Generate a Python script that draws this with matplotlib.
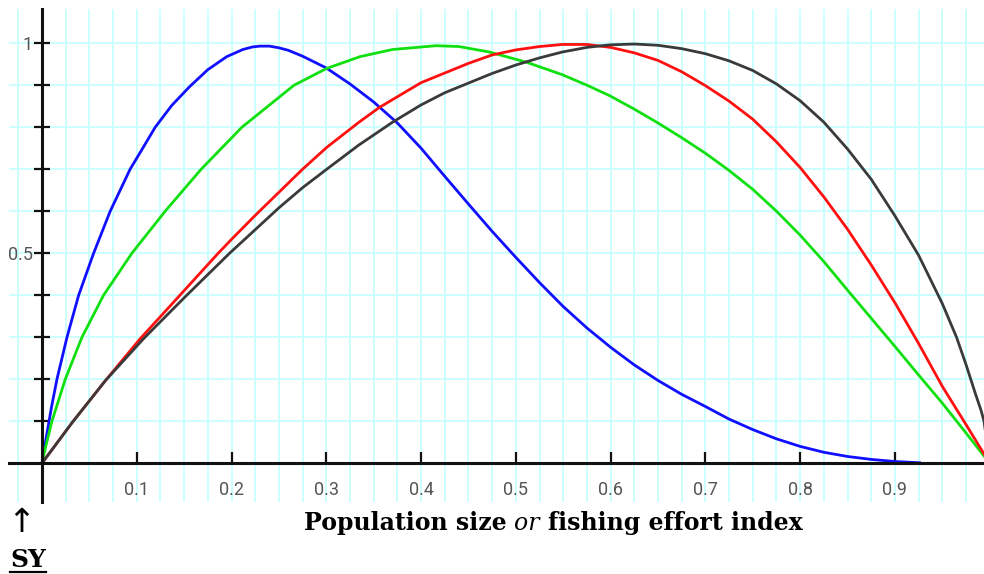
import numpy as np
import matplotlib
matplotlib.use("Agg")
import matplotlib.pyplot as plt
from matplotlib.ticker import MultipleLocator, FixedLocator, FuncFormatter
from matplotlib.lines import Line2D

# values (x = population size / effort index)
blue_x = [0, 0.005, 0.01, 0.0158, 0.0264, 0.0387, 0.0545, 0.072, 0.093, 0.105,
          0.1195, 0.137, 0.156, 0.175, 0.195, 0.212, 0.222, 0.23, 0.24, 0.25,
          0.26, 0.275, 0.3, 0.325, 0.35, 0.375, 0.4, 0.425, 0.45, 0.475,
          0.5, 0.525, 0.55, 0.575, 0.6, 0.625, 0.65, 0.675, 0.7, 0.725,
          0.75, 0.775, 0.8, 0.825, 0.85, 0.875, 0.9, 0.926]
blue_y = [0, 0.068, 0.133, 0.2, 0.3, 0.4, 0.5, 0.6, 0.7, 0.745,
          0.8, 0.852, 0.897, 0.937, 0.968, 0.985, 0.991, 0.993, 0.993, 0.989,
          0.983, 0.969, 0.941, 0.903, 0.86, 0.81, 0.75, 0.683, 0.617, 0.552,
          0.49, 0.43, 0.373, 0.322, 0.276, 0.234, 0.197, 0.164, 0.135, 0.105,
          0.08, 0.058, 0.04, 0.026, 0.016, 0.009, 0.004, 0.001]

green_x = [0, 0.004, 0.0105, 0.0246, 0.0422, 0.065, 0.0949, 0.13, 0.168, 0.211,
           0.266, 0.3005, 0.3357, 0.37, 0.4158, 0.44, 0.472, 0.5108, 0.549, 0.575,
           0.599, 0.625, 0.65, 0.675, 0.7, 0.725, 0.75, 0.775, 0.8, 0.825,
           0.85, 0.875, 0.9, 0.925, 0.95, 0.975, 1.0]
green_y = [0, 0.04, 0.1, 0.2, 0.3, 0.4, 0.5, 0.6, 0.7, 0.8,
           0.9, 0.94, 0.968, 0.985, 0.994, 0.992, 0.979, 0.955, 0.925, 0.9,
           0.875, 0.843, 0.81, 0.775, 0.738, 0.697, 0.652, 0.6, 0.543, 0.48,
           0.412, 0.345, 0.278, 0.21, 0.143, 0.072, 0.0]

red_x = [0, 0.0316, 0.0667, 0.1035, 0.144, 0.186, 0.2, 0.225, 0.25, 0.275,
         0.3005, 0.334, 0.356, 0.4, 0.45, 0.475, 0.5, 0.525, 0.549, 0.575,
         0.6, 0.625, 0.65, 0.675, 0.7, 0.725, 0.75, 0.775, 0.8, 0.825,
         0.85, 0.875, 0.9, 0.925, 0.95, 0.975, 1.0]
red_y = [0, 0.096, 0.196, 0.296, 0.396, 0.5, 0.533, 0.59, 0.645, 0.7,
         0.752, 0.811, 0.847, 0.906, 0.952, 0.972, 0.984, 0.992, 0.997, 0.997,
         0.99, 0.977, 0.959, 0.932, 0.899, 0.862, 0.819, 0.765, 0.704, 0.634,
         0.557, 0.472, 0.382, 0.285, 0.183, 0.092, 0.0]

black_x = [0, 0.0316, 0.0667, 0.107, 0.151, 0.198, 0.225, 0.25, 0.275, 0.3005,
           0.334, 0.37, 0.4, 0.425, 0.45, 0.475, 0.5, 0.525, 0.549, 0.575,
           0.599, 0.625, 0.65, 0.675, 0.7, 0.725, 0.75, 0.775, 0.8, 0.825,
           0.85, 0.875, 0.9, 0.925, 0.95, 0.965, 0.975, 0.985, 0.991, 0.994, 1.0]
black_y = [0, 0.096, 0.196, 0.296, 0.396, 0.5, 0.556, 0.608, 0.656, 0.70,
           0.757, 0.812, 0.853, 0.882, 0.905, 0.928, 0.948, 0.965, 0.979, 0.99,
           0.996, 0.998, 0.995, 0.987, 0.975, 0.958, 0.935, 0.903, 0.863, 0.812,
           0.748, 0.676, 0.589, 0.495, 0.38, 0.3, 0.235, 0.165, 0.125, 0.1, 0.0]

x_ticks = [0.1, 0.2, 0.3, 0.4, 0.5, 0.6, 0.7, 0.8, 0.9]
y_ticks = [0.1, 0.2, 0.3, 0.4, 0.5, 0.6, 0.7, 0.8, 0.9, 1.0]
y_labels = {0.5: "0.5", 1.0: "1"}

W, H = 984, 574
fig = plt.figure(figsize=(W / 100, H / 100), dpi=100)
ax = fig.add_axes([9 / W, 72 / H, 975 / W, 493 / H])
ax.set_xlim(-0.0348, 0.994)
ax.set_ylim(-0.0924, 1.0814)

ax.xaxis.set_major_locator(FixedLocator(x_ticks))
ax.yaxis.set_major_locator(FixedLocator(y_ticks))
ax.xaxis.set_minor_locator(MultipleLocator(0.025))
ax.yaxis.set_minor_locator(MultipleLocator(0.1))

# light cyan graph-paper grid
ax.grid(which="both", color="#c8ffff", lw=1.3)
ax.set_axisbelow(True)

for s in ["top", "right"]:
    ax.spines[s].set_visible(False)
for s in ["left", "bottom"]:
    ax.spines[s].set_position(("data", 0))
    ax.spines[s].set_linewidth(2.2)
    ax.spines[s].set_color("#111111")

ax.plot(blue_x, blue_y, color="#1010ff", lw=2.0)
ax.plot(green_x, green_y, color="#10e010", lw=2.0)
ax.plot(red_x, red_y, color="#ff1010", lw=2.0)
ax.plot(black_x, black_y, color="#3a3a3a", lw=2.0)

ax.yaxis.set_major_formatter(FuncFormatter(lambda v, p: y_labels.get(round(v, 2), "")))
ax.xaxis.set_major_formatter(FuncFormatter(lambda v, p: "%.1f" % v))
ax.tick_params(which="minor", length=0)
ax.tick_params(axis="x", which="major", direction="in", length=8, width=1.6,
               color="#111111", pad=13, labelsize=13, labelcolor="#555555")
ax.tick_params(axis="y", which="major", direction="inout", length=11, width=1.6,
               color="#111111", pad=1, labelsize=13, labelcolor="#555555")
for lab in ax.get_xticklabels() + ax.get_yticklabels():
    lab.set_family(["Roboto", "DejaVu Sans"])

# caption under the chart
serif = ["DejaVu Serif", "DejaVu Sans"]
fig.canvas.draw()
r = fig.canvas.get_renderer()
base = 1 - 530 / H
parts = [("Population size", "bold", "normal"), ("or", "normal", "italic"),
         ("fishing effort index", "bold", "normal")]
texts = [fig.text(0, base, s, family=serif, weight=w, style=st, fontsize=17,
                  va="baseline", ha="left") for s, w, st in parts]
gap = 8
widths = [t.get_window_extent(r).width for t in texts]
total = sum(widths) + gap * (len(widths) - 1)
x0 = 553 - total / 2
for t, wd in zip(texts, widths):
    t.set_x(x0 / W)
    x0 += wd + gap

fig.text(7 / W, 1 - 532 / H, "\u2191", family=["DejaVu Sans"], fontsize=24,
         va="baseline", ha="left")
sy = fig.text(10 / W, 1 - 567 / H, "SY", family=serif, weight="bold",
              fontsize=18, va="baseline", ha="left")
bb = sy.get_window_extent(r)
fig.add_artist(Line2D([bb.x0 / W, bb.x1 / W], [1 - 572 / H, 1 - 572 / H],
                      color="black", lw=1.6, transform=fig.transFigure))

fig.savefig("out.png", dpi=100)
